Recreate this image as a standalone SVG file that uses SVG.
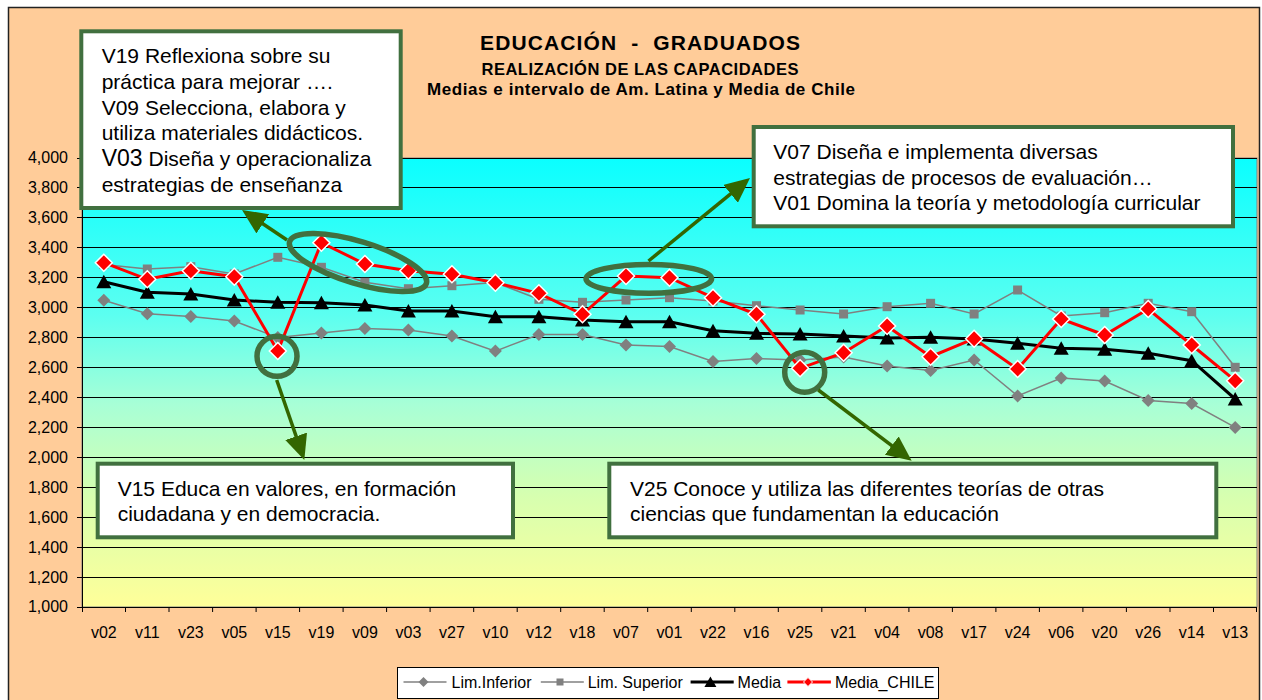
<svg xmlns="http://www.w3.org/2000/svg" xmlns:xlink="http://www.w3.org/1999/xlink" width="1262" height="700" viewBox="0 0 1262 700">
<style>
text{font-family:"Liberation Sans",Arial,sans-serif;fill:#000}
.ttl{font-weight:bold;text-anchor:middle;white-space:pre}
.yl{font-size:16px;text-anchor:end}
.xl{font-size:16px;text-anchor:middle}
.lg{font-size:16px}
.bx{fill:#fff;stroke:#41703f;stroke-width:4}
.bt{font-size:21px}
.grid{stroke:#000;stroke-width:1;fill:none}
.ring{fill:none;stroke:#41703f;stroke-width:5.5}
.arr{stroke:#336600;stroke-width:3.5;fill:none;marker-end:url(#ah)}
.sInf{fill:none;stroke:#808080;stroke-width:1.5}
.sSup{fill:none;stroke:#808080;stroke-width:1.5}
.sMed{fill:none;stroke:#000;stroke-width:3}
.sChi{fill:none;stroke:#ff0000;stroke-width:3}
</style>
<defs>
<linearGradient id="bg" x1="0" y1="0" x2="0" y2="1">
<stop offset="0" stop-color="#0affff"/>
<stop offset="0.35" stop-color="#5cfff0"/>
<stop offset="0.55" stop-color="#a8ffd6"/>
<stop offset="0.75" stop-color="#d6ffb0"/>
<stop offset="1" stop-color="#ffff99"/>
</linearGradient>
<marker id="ah" markerUnits="userSpaceOnUse" viewBox="0 0 25 23" markerWidth="25" markerHeight="23" refX="17" refY="11.5" orient="auto">
<path d="M0,0 L25,11.5 L0,23 z" fill="#336600"/>
</marker>
<polygon id="mInf" points="0,-6.5 6.5,0 0,6.5 -6.5,0" fill="#808080"/>
<rect id="mSup" x="-4.5" y="-4.5" width="9" height="9" fill="#808080"/>
<polygon id="mMed" points="0,-7 7.5,6.5 -7.5,6.5" fill="#000"/>
<polygon id="mChi" points="0,-8.5 8.5,0 0,8.5 -8.5,0" fill="#ff0000" stroke="#fff" stroke-width="1.5"/>
<polygon id="lInf" points="0,-5 5,0 0,5 -5,0" fill="#808080"/>
<rect id="lSup" x="-3.5" y="-3.5" width="7" height="7" fill="#808080"/>
<polygon id="lMed" points="0,-5.5 6,5 -6,5" fill="#000"/>
<polygon id="lChi" points="0,-4.5 4.5,0 0,4.5 -4.5,0" fill="#ff0000" stroke="#fff" stroke-width="1"/>
</defs>

<rect x="0" y="0" width="1262" height="700" fill="#fff"/>
<rect x="8.5" y="7.5" width="1251" height="700" fill="#ffcc99" stroke="#222" stroke-width="1.5"/>

<g id="title">
<text class="ttl" x="640" y="49.5" font-size="21" textLength="320" xml:space="preserve">EDUCACIÓN  -  GRADUADOS</text>
<text class="ttl" x="640" y="75" font-size="16.5" textLength="317">REALIZACIÓN DE LAS CAPACIDADES</text>
<text class="ttl" x="641" y="94.5" font-size="17" textLength="428">Medias e intervalo de Am. Latina y Media de Chile</text>
</g>

<g id="plot">
<rect x="82" y="158" width="1175" height="449" fill="url(#bg)" stroke="#808080" stroke-width="1"/>
<path class="grid" d="M82,577.5H1257M82,547.5H1257M82,517.5H1257M82,487.5H1257M82,457.5H1257M82,427.5H1257M82,397.5H1257M82,367.5H1257M82,337.5H1257M82,307.5H1257M82,277.5H1257M82,247.5H1257M82,217.5H1257M82,187.5H1257M82,158.5H1257"/>
<path stroke="#000" stroke-width="1" fill="none" d="M82.5,158V612M82,607.5H1257M77,607.5H82M77,577.5H82M77,547.5H82M77,517.5H82M77,487.5H82M77,457.5H82M77,427.5H82M77,397.5H82M77,367.5H82M77,337.5H82M77,307.5H82M77,277.5H82M77,247.5H82M77,217.5H82M77,187.5H82M77,158.5H82"/>
<path stroke="#000" stroke-width="1" fill="none" d="M125.5,607V612M169,607V612M212.6,607V612M256.1,607V612M299.6,607V612M343.1,607V612M386.6,607V612M430.1,607V612M473.7,607V612M517.2,607V612M560.7,607V612M604.2,607V612M647.7,607V612M691.3,607V612M734.8,607V612M778.3,607V612M821.8,607V612M865.3,607V612M908.9,607V612M952.4,607V612M995.9,607V612M1039.4,607V612M1082.9,607V612M1126.4,607V612M1170,607V612M1213.5,607V612M1256.5,607V612"/>
</g>

<g id="y-labels">
<text class="yl" x="68" y="163">4,000</text>
<text class="yl" x="68" y="193">3,800</text>
<text class="yl" x="68" y="223">3,600</text>
<text class="yl" x="68" y="253">3,400</text>
<text class="yl" x="68" y="283">3,200</text>
<text class="yl" x="68" y="313">3,000</text>
<text class="yl" x="68" y="343">2,800</text>
<text class="yl" x="68" y="373">2,600</text>
<text class="yl" x="68" y="403">2,400</text>
<text class="yl" x="68" y="433">2,200</text>
<text class="yl" x="68" y="463">2,000</text>
<text class="yl" x="68" y="493">1,800</text>
<text class="yl" x="68" y="523">1,600</text>
<text class="yl" x="68" y="553">1,400</text>
<text class="yl" x="68" y="583">1,200</text>
<text class="yl" x="68" y="612">1,000</text>
</g>

<g id="x-labels">
<text class="xl" x="103.8" y="638">v02</text>
<text class="xl" x="147.3" y="638">v11</text>
<text class="xl" x="190.8" y="638">v23</text>
<text class="xl" x="234.3" y="638">v05</text>
<text class="xl" x="277.8" y="638">v15</text>
<text class="xl" x="321.4" y="638">v19</text>
<text class="xl" x="364.9" y="638">v09</text>
<text class="xl" x="408.4" y="638">v03</text>
<text class="xl" x="451.9" y="638">v27</text>
<text class="xl" x="495.4" y="638">v10</text>
<text class="xl" x="538.9" y="638">v12</text>
<text class="xl" x="582.5" y="638">v18</text>
<text class="xl" x="626" y="638">v07</text>
<text class="xl" x="669.5" y="638">v01</text>
<text class="xl" x="713" y="638">v22</text>
<text class="xl" x="756.5" y="638">v16</text>
<text class="xl" x="800.1" y="638">v25</text>
<text class="xl" x="843.6" y="638">v21</text>
<text class="xl" x="887.1" y="638">v04</text>
<text class="xl" x="930.6" y="638">v08</text>
<text class="xl" x="974.1" y="638">v17</text>
<text class="xl" x="1017.6" y="638">v24</text>
<text class="xl" x="1061.2" y="638">v06</text>
<text class="xl" x="1104.7" y="638">v20</text>
<text class="xl" x="1148.2" y="638">v26</text>
<text class="xl" x="1191.7" y="638">v14</text>
<text class="xl" x="1235.2" y="638">v13</text>
</g>

<g id="series-lim-inferior">
<polyline class="sInf" points="103.8,300.2 147.3,313.7 190.8,316.6 234.3,321.1 277.8,337.6 321.4,333.1 364.9,328.6 408.4,330.1 451.9,336.1 495.4,351.1 538.9,334.6 582.5,334.6 626,345.1 669.5,346.6 713,361.5 756.5,358.6 800.1,360 843.6,357.1 887.1,366 930.6,370.5 974.1,360 1017.6,396 1061.2,378 1104.7,381 1148.2,400.5 1191.7,403.5 1235.2,427.4"/>
<use href="#mInf" x="103.8" y="300.2"/><use href="#mInf" x="147.3" y="313.7"/><use href="#mInf" x="190.8" y="316.6"/><use href="#mInf" x="234.3" y="321.1"/><use href="#mInf" x="277.8" y="337.6"/><use href="#mInf" x="321.4" y="333.1"/><use href="#mInf" x="364.9" y="328.6"/><use href="#mInf" x="408.4" y="330.1"/><use href="#mInf" x="451.9" y="336.1"/><use href="#mInf" x="495.4" y="351.1"/><use href="#mInf" x="538.9" y="334.6"/><use href="#mInf" x="582.5" y="334.6"/><use href="#mInf" x="626" y="345.1"/><use href="#mInf" x="669.5" y="346.6"/><use href="#mInf" x="713" y="361.5"/><use href="#mInf" x="756.5" y="358.6"/><use href="#mInf" x="800.1" y="360"/><use href="#mInf" x="843.6" y="357.1"/><use href="#mInf" x="887.1" y="366"/><use href="#mInf" x="930.6" y="370.5"/><use href="#mInf" x="974.1" y="360"/><use href="#mInf" x="1017.6" y="396"/><use href="#mInf" x="1061.2" y="378"/><use href="#mInf" x="1104.7" y="381"/><use href="#mInf" x="1148.2" y="400.5"/><use href="#mInf" x="1191.7" y="403.5"/><use href="#mInf" x="1235.2" y="427.4"/>
</g>

<g id="series-lim-superior">
<polyline class="sSup" points="103.8,264.5 147.3,269 190.8,266.7 234.3,274 277.8,257.3 321.4,267.3 364.9,282.3 408.4,288.7 451.9,285.7 495.4,282.5 538.9,299.3 582.5,302.3 626,300 669.5,297.7 713,301 756.5,305.7 800.1,310 843.6,314 887.1,306.7 930.6,303.3 974.1,314 1017.6,290 1061.2,316 1104.7,312.7 1148.2,303.3 1191.7,311.7 1235.2,367.3"/>
<use href="#mSup" x="103.8" y="264.5"/><use href="#mSup" x="147.3" y="269"/><use href="#mSup" x="190.8" y="266.7"/><use href="#mSup" x="234.3" y="274"/><use href="#mSup" x="277.8" y="257.3"/><use href="#mSup" x="321.4" y="267.3"/><use href="#mSup" x="364.9" y="282.3"/><use href="#mSup" x="408.4" y="288.7"/><use href="#mSup" x="451.9" y="285.7"/><use href="#mSup" x="495.4" y="282.5"/><use href="#mSup" x="538.9" y="299.3"/><use href="#mSup" x="582.5" y="302.3"/><use href="#mSup" x="626" y="300"/><use href="#mSup" x="669.5" y="297.7"/><use href="#mSup" x="713" y="301"/><use href="#mSup" x="756.5" y="305.7"/><use href="#mSup" x="800.1" y="310"/><use href="#mSup" x="843.6" y="314"/><use href="#mSup" x="887.1" y="306.7"/><use href="#mSup" x="930.6" y="303.3"/><use href="#mSup" x="974.1" y="314"/><use href="#mSup" x="1017.6" y="290"/><use href="#mSup" x="1061.2" y="316"/><use href="#mSup" x="1104.7" y="312.7"/><use href="#mSup" x="1148.2" y="303.3"/><use href="#mSup" x="1191.7" y="311.7"/><use href="#mSup" x="1235.2" y="367.3"/>
</g>

<g id="series-media">
<polyline class="sMed" points="103.8,281.7 147.3,292.3 190.8,294 234.3,300 277.8,302.3 321.4,302.7 364.9,305 408.4,311 451.9,311 495.4,316.7 538.9,316.7 582.5,320 626,321.7 669.5,321.7 713,330.7 756.5,333.3 800.1,334 843.6,336 887.1,338 930.6,337.3 974.1,339 1017.6,343.3 1061.2,348.3 1104.7,349.3 1148.2,353.3 1191.7,360.7 1235.2,399"/>
<use href="#mMed" x="103.8" y="281.7"/><use href="#mMed" x="147.3" y="292.3"/><use href="#mMed" x="190.8" y="294"/><use href="#mMed" x="234.3" y="300"/><use href="#mMed" x="277.8" y="302.3"/><use href="#mMed" x="321.4" y="302.7"/><use href="#mMed" x="364.9" y="305"/><use href="#mMed" x="408.4" y="311"/><use href="#mMed" x="451.9" y="311"/><use href="#mMed" x="495.4" y="316.7"/><use href="#mMed" x="538.9" y="316.7"/><use href="#mMed" x="582.5" y="320"/><use href="#mMed" x="626" y="321.7"/><use href="#mMed" x="669.5" y="321.7"/><use href="#mMed" x="713" y="330.7"/><use href="#mMed" x="756.5" y="333.3"/><use href="#mMed" x="800.1" y="334"/><use href="#mMed" x="843.6" y="336"/><use href="#mMed" x="887.1" y="338"/><use href="#mMed" x="930.6" y="337.3"/><use href="#mMed" x="974.1" y="339"/><use href="#mMed" x="1017.6" y="343.3"/><use href="#mMed" x="1061.2" y="348.3"/><use href="#mMed" x="1104.7" y="349.3"/><use href="#mMed" x="1148.2" y="353.3"/><use href="#mMed" x="1191.7" y="360.7"/><use href="#mMed" x="1235.2" y="399"/>
</g>

<g id="series-media-chile">
<polyline class="sChi" points="103.8,262.7 147.3,279.3 190.8,270.7 234.3,276.7 277.8,351 321.4,242.7 364.9,264 408.4,270.7 451.9,274.3 495.4,282.7 538.9,293.3 582.5,314.3 626,276 669.5,277.7 713,297.7 756.5,314.3 800.1,368.3 843.6,352.7 887.1,326 930.6,356.7 974.1,338.7 1017.6,369 1061.2,319 1104.7,335 1148.2,309 1191.7,345 1235.2,380.7"/>
<use href="#mChi" x="103.8" y="262.7"/><use href="#mChi" x="147.3" y="279.3"/><use href="#mChi" x="190.8" y="270.7"/><use href="#mChi" x="234.3" y="276.7"/><use href="#mChi" x="277.8" y="351"/><use href="#mChi" x="321.4" y="242.7"/><use href="#mChi" x="364.9" y="264"/><use href="#mChi" x="408.4" y="270.7"/><use href="#mChi" x="451.9" y="274.3"/><use href="#mChi" x="495.4" y="282.7"/><use href="#mChi" x="538.9" y="293.3"/><use href="#mChi" x="582.5" y="314.3"/><use href="#mChi" x="626" y="276"/><use href="#mChi" x="669.5" y="277.7"/><use href="#mChi" x="713" y="297.7"/><use href="#mChi" x="756.5" y="314.3"/><use href="#mChi" x="800.1" y="368.3"/><use href="#mChi" x="843.6" y="352.7"/><use href="#mChi" x="887.1" y="326"/><use href="#mChi" x="930.6" y="356.7"/><use href="#mChi" x="974.1" y="338.7"/><use href="#mChi" x="1017.6" y="369"/><use href="#mChi" x="1061.2" y="319"/><use href="#mChi" x="1104.7" y="335"/><use href="#mChi" x="1148.2" y="309"/><use href="#mChi" x="1191.7" y="345"/><use href="#mChi" x="1235.2" y="380.7"/>
</g>

<g id="highlight-v19-v09-v03"><ellipse class="ring" cx="358" cy="262.5" rx="71.5" ry="21" transform="rotate(17 358 262.5)"/></g>
<g id="highlight-v07-v01"><ellipse class="ring" cx="648.8" cy="278.8" rx="62.8" ry="14.4"/></g>
<g id="highlight-v15"><circle class="ring" cx="277" cy="356.3" r="20"/></g>
<g id="highlight-v25"><circle class="ring" cx="804.7" cy="372.2" r="20"/></g>

<g id="connectors">
<line class="arr" x1="287" y1="240" x2="248.7" y2="214.4"/>
<line class="arr" x1="648.5" y1="261" x2="743.8" y2="183.1"/>
<line class="arr" x1="276.7" y1="380" x2="301.7" y2="452.4"/>
<line class="arr" x1="818.3" y1="390" x2="905.3" y2="455.9"/>
</g>

<g id="box-v19">
<rect class="bx" x="81.3" y="31.3" width="319.4" height="176.7"/>
<text class="bt" x="101.7" y="63.3">V19 Reflexiona sobre su</text>
<text class="bt" x="101.7" y="89.3">práctica para mejorar ….</text>
<text class="bt" x="101.7" y="114.5">V09 Selecciona, elabora y</text>
<text class="bt" x="101.7" y="140">utiliza materiales didácticos.</text>
<text class="bt" x="101.7" y="166"><tspan font-size="23">V03</tspan> Diseña y operacionaliza</text>
<text class="bt" x="101.7" y="191.7">estrategias de enseñanza</text>
</g>

<g id="box-v07">
<rect class="bx" x="753.7" y="127" width="479.3" height="99.3"/>
<text class="bt" x="773.3" y="159.3">V07 Diseña e implementa diversas</text>
<text class="bt" x="773.3" y="185">estrategias de procesos de evaluación…</text>
<text class="bt" x="773.3" y="210">V01 Domina la teoría y metodología curricular</text>
</g>

<g id="box-v15">
<rect class="bx" x="97.7" y="463.7" width="415.3" height="73.6"/>
<text class="bt" x="117.7" y="495.7">V15 Educa en valores, en formación</text>
<text class="bt" x="117.7" y="520.7">ciudadana y en democracia.</text>
</g>

<g id="box-v25">
<rect class="bx" x="609.3" y="463.7" width="607" height="73.6"/>
<text class="bt" x="630" y="495.7">V25 Conoce y utiliza las diferentes teorías de otras</text>
<text class="bt" x="630" y="520.7">ciencias que fundamentan la educación</text>
</g>

<g id="legend">
<rect x="397.5" y="667.5" width="541" height="31" fill="#fff" stroke="#000" stroke-width="1"/>
<line x1="403.5" y1="682" x2="446.5" y2="682" stroke="#808080" stroke-width="1.5"/>
<use href="#lInf" x="423.5" y="682"/>
<text class="lg" x="451.5" y="688">Lim.Inferior</text>
<line x1="540.8" y1="682" x2="583.8" y2="682" stroke="#808080" stroke-width="1.5"/>
<use href="#lSup" x="560" y="682"/>
<text class="lg" x="587.7" y="688">Lim. Superior</text>
<line x1="690.6" y1="682" x2="733.7" y2="682" stroke="#000" stroke-width="3"/>
<use href="#lMed" x="710.4" y="682"/>
<text class="lg" x="737.6" y="688">Media</text>
<line x1="787.4" y1="682" x2="830.9" y2="682" stroke="#ff0000" stroke-width="3"/>
<use href="#lChi" x="808" y="682"/>
<text class="lg" x="834.9" y="688">Media_CHILE</text>
</g>
</svg>
